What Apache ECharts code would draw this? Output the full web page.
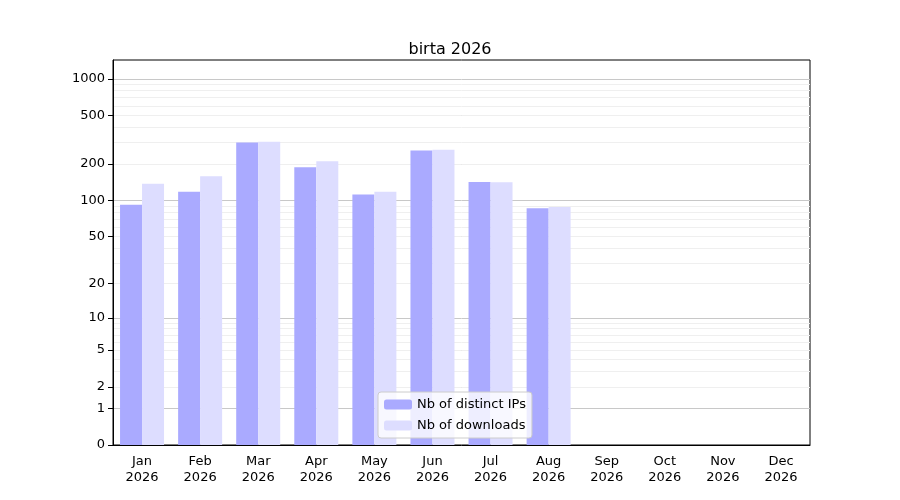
<!DOCTYPE html><html><head><meta charset="utf-8"><script src="https://cdn.jsdelivr.net/npm/echarts@6/dist/echarts.min.js"></script></head><body style="margin:0"><div id="c" style="width:900px;height:500px"></div><script>
const months=['Jan','Feb','Mar','Apr','May','Jun','Jul','Aug','Sep','Oct','Nov','Dec'];
const year='2026';
const ips=[92,118,300,188,112,258,142,86,null,null,null,null];
const downloads=[137,158,305,210,118,262,141,88,null,null,null,null];
const tickLabels=[0,1,2,5,10,20,50,100,200,500,1000];
const majorGrid=[0,1,10,100,1000];
const minorGrid=[2,3,4,5,6,7,8,9,20,30,40,50,60,70,80,90,200,300,400,500,600,700,800,900];
const f=v=>v==null?null:Math.log10(1+v);
const ymax=3.155;
const ch=echarts.init(document.getElementById('c'));
const font='DejaVu Sans';
ch.setOption({
 textStyle:{fontFamily:font},
 title:{text:'birta '+year,left:'center',top:37,textStyle:{fontFamily:font,fontWeight:'normal',fontSize:16,color:'#000'}},
 grid:{left:113,right:90,top:60,bottom:55,show:true,borderColor:'#000',borderWidth:1},
 legend:{left:378,top:392,orient:'vertical',itemWidth:28,itemHeight:10,itemGap:8,padding:[6,6],borderColor:'#ccc',borderWidth:1,borderRadius:3,backgroundColor:'rgba(255,255,255,0.8)',textStyle:{fontFamily:font,fontSize:13,color:'#000'},data:['Nb of distinct IPs','Nb of downloads']},
 xAxis:{type:'category',data:months.map(m=>m+'\n'+year),axisLine:{lineStyle:{color:'#000'}},axisTick:{alignWithLabel:true,length:5,lineStyle:{color:'#000'}},axisLabel:{color:'#000',fontSize:13,lineHeight:16,margin:9}},
 yAxis:[
  {type:'value',min:0,max:ymax,axisLine:{show:true,lineStyle:{color:'#000'}},
   axisTick:{show:true,length:5,customValues:tickLabels.map(f),lineStyle:{color:'#000'}},
   axisLabel:{color:'#000',fontSize:13,customValues:tickLabels.map(f),formatter:v=>{const x=Math.round(Math.pow(10,v)-1);return String(x);}},
   splitLine:{show:true,customValues:majorGrid.map(f),lineStyle:{color:'#c8c8c8'}}},
  {type:'value',min:0,max:ymax,position:'left',axisLine:{show:false},axisTick:{show:false,customValues:minorGrid.map(f)},axisLabel:{show:false,customValues:minorGrid.map(f)},
   splitLine:{show:true,customValues:minorGrid.map(f),lineStyle:{color:'#efefef'}}}
 ],
 series:[
  {name:'Nb of distinct IPs',type:'bar',data:ips.map(f),barWidth:22,barGap:'0%',itemStyle:{color:'#aaaaff'},z:3},
  {name:'Nb of downloads',type:'bar',data:downloads.map(f),barWidth:22,itemStyle:{color:'#ddddff'},z:3}
 ]
});
</script></body></html>
